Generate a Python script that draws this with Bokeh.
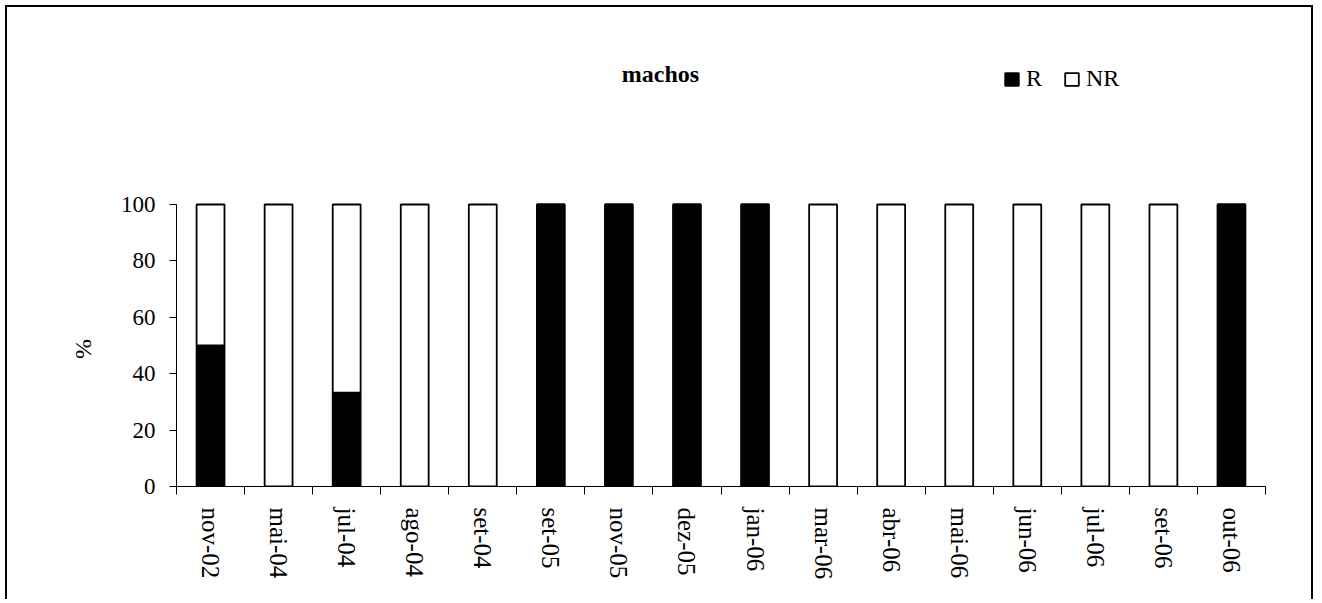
from bokeh.plotting import figure
from bokeh.models import (Range1d, FixedTicker, Label, Legend, LegendItem, ColumnDataSource)
from bokeh.embed import file_html
from bokeh.resources import INLINE

categories = ["nov-02", "mai-04", "jul-04", "ago-04", "set-04", "set-05", "nov-05",
              "dez-05", "jan-06", "mar-06", "abr-06", "mai-06", "jun-06", "jul-06",
              "set-06", "out-06"]
R = [50, 0, 33.3, 0, 0, 100, 100, 100, 100, 0, 0, 0, 0, 0, 0, 100]
NR = [50, 100, 66.7, 100, 100, 0, 0, 0, 0, 100, 100, 100, 100, 100, 100, 0]
y_ticks = [0, 20, 40, 60, 80, 100]
title_text = "machos"
y_label = "%"

FONT = "Liberation Serif"
n = len(categories)
centers = [i + 0.5 for i in range(n)]
bounds = [float(i) for i in range(n + 1)]

src = ColumnDataSource(dict(x=centers, R=R, NR=NR))

W, H = 1308, 594
FRAME_BOTTOM = 479          # canvas px
PX_PER_UNIT = 2.82
y_end = FRAME_BOTTOM / PX_PER_UNIT

p = figure(width=W, height=H, output_backend="svg", toolbar_location=None,
           x_range=Range1d(0, n), y_range=Range1d(0, y_end),
           min_border_left=169, min_border_right=50, min_border_top=0,
           min_border_bottom=H - FRAME_BOTTOM)
p.styles = {"border-top": "2px solid black", "border-left": "2px solid black",
            "border-right": "2px solid black", "margin-left": "5px", "margin-top": "5px"}
p.outline_line_color = None
p.xgrid.visible = False
p.ygrid.visible = False
p.background_fill_color = "white"
p.border_fill_color = "white"

rs = p.vbar_stack(["R", "NR"], x="x", width=0.41, source=src,
                  fill_color=["black", "white"], line_color="black", line_width=1.8)

# x axis: labels at centers, tick marks at boundaries
xa = p.xaxis[0]
xa.ticker = FixedTicker(ticks=centers, minor_ticks=bounds)
xa.major_label_overrides = {c: lab for c, lab in zip(centers, categories)}
xa.major_label_orientation = "vertical"
xa.major_tick_line_color = None
xa.major_tick_out = 0
xa.major_tick_in = 0
xa.minor_tick_line_color = "black"
xa.minor_tick_out = 8
xa.minor_tick_in = 0
xa.axis_line_color = "black"
xa.major_label_text_font = FONT
xa.major_label_text_font_size = "25px"
xa.major_label_text_color = "black"
xa.major_label_standoff = 13

ya = p.yaxis[0]
ya.bounds = (0, 100)
ya.ticker = FixedTicker(ticks=y_ticks, minor_ticks=[])
ya.major_tick_out = 7
ya.major_tick_in = 0
ya.major_tick_line_color = "black"
ya.axis_line_color = "black"
ya.major_label_text_font = FONT
ya.major_label_text_font_size = "23px"
ya.major_label_text_color = "black"
ya.major_label_standoff = 14
# the frame extends above 100 (room for title/legend); pad with no-break spaces
# so the "%" sits centred on the 0-100 span of the axis
ya.axis_label = y_label + "\u00a0" * 34
ya.axis_label_text_font = FONT
ya.axis_label_text_font_size = "24px"
ya.axis_label_text_font_style = "normal"
ya.axis_label_text_color = "black"
ya.axis_label_standoff = 22

p.add_layout(Label(x=484, y=413, x_units="screen", y_units="screen", text=title_text,
                   text_font=FONT, text_font_size="24px", text_font_style="bold",
                   text_align="center", text_baseline="alphabetic", text_color="black"))

legend = Legend(items=[LegendItem(label="R", renderers=[rs[0]]),
                       LegendItem(label="NR", renderers=[rs[1]])],
                location=(827, 394), orientation="horizontal",
                glyph_width=17, glyph_height=16, label_standoff=6, spacing=17,
                padding=0, margin=0, border_line_color=None, background_fill_alpha=0,
                label_text_font=FONT, label_text_font_size="24px", label_text_color="black",
                label_height=16)
p.add_layout(legend, "center")

open("out.html", "w").write(file_html(p, INLINE))
